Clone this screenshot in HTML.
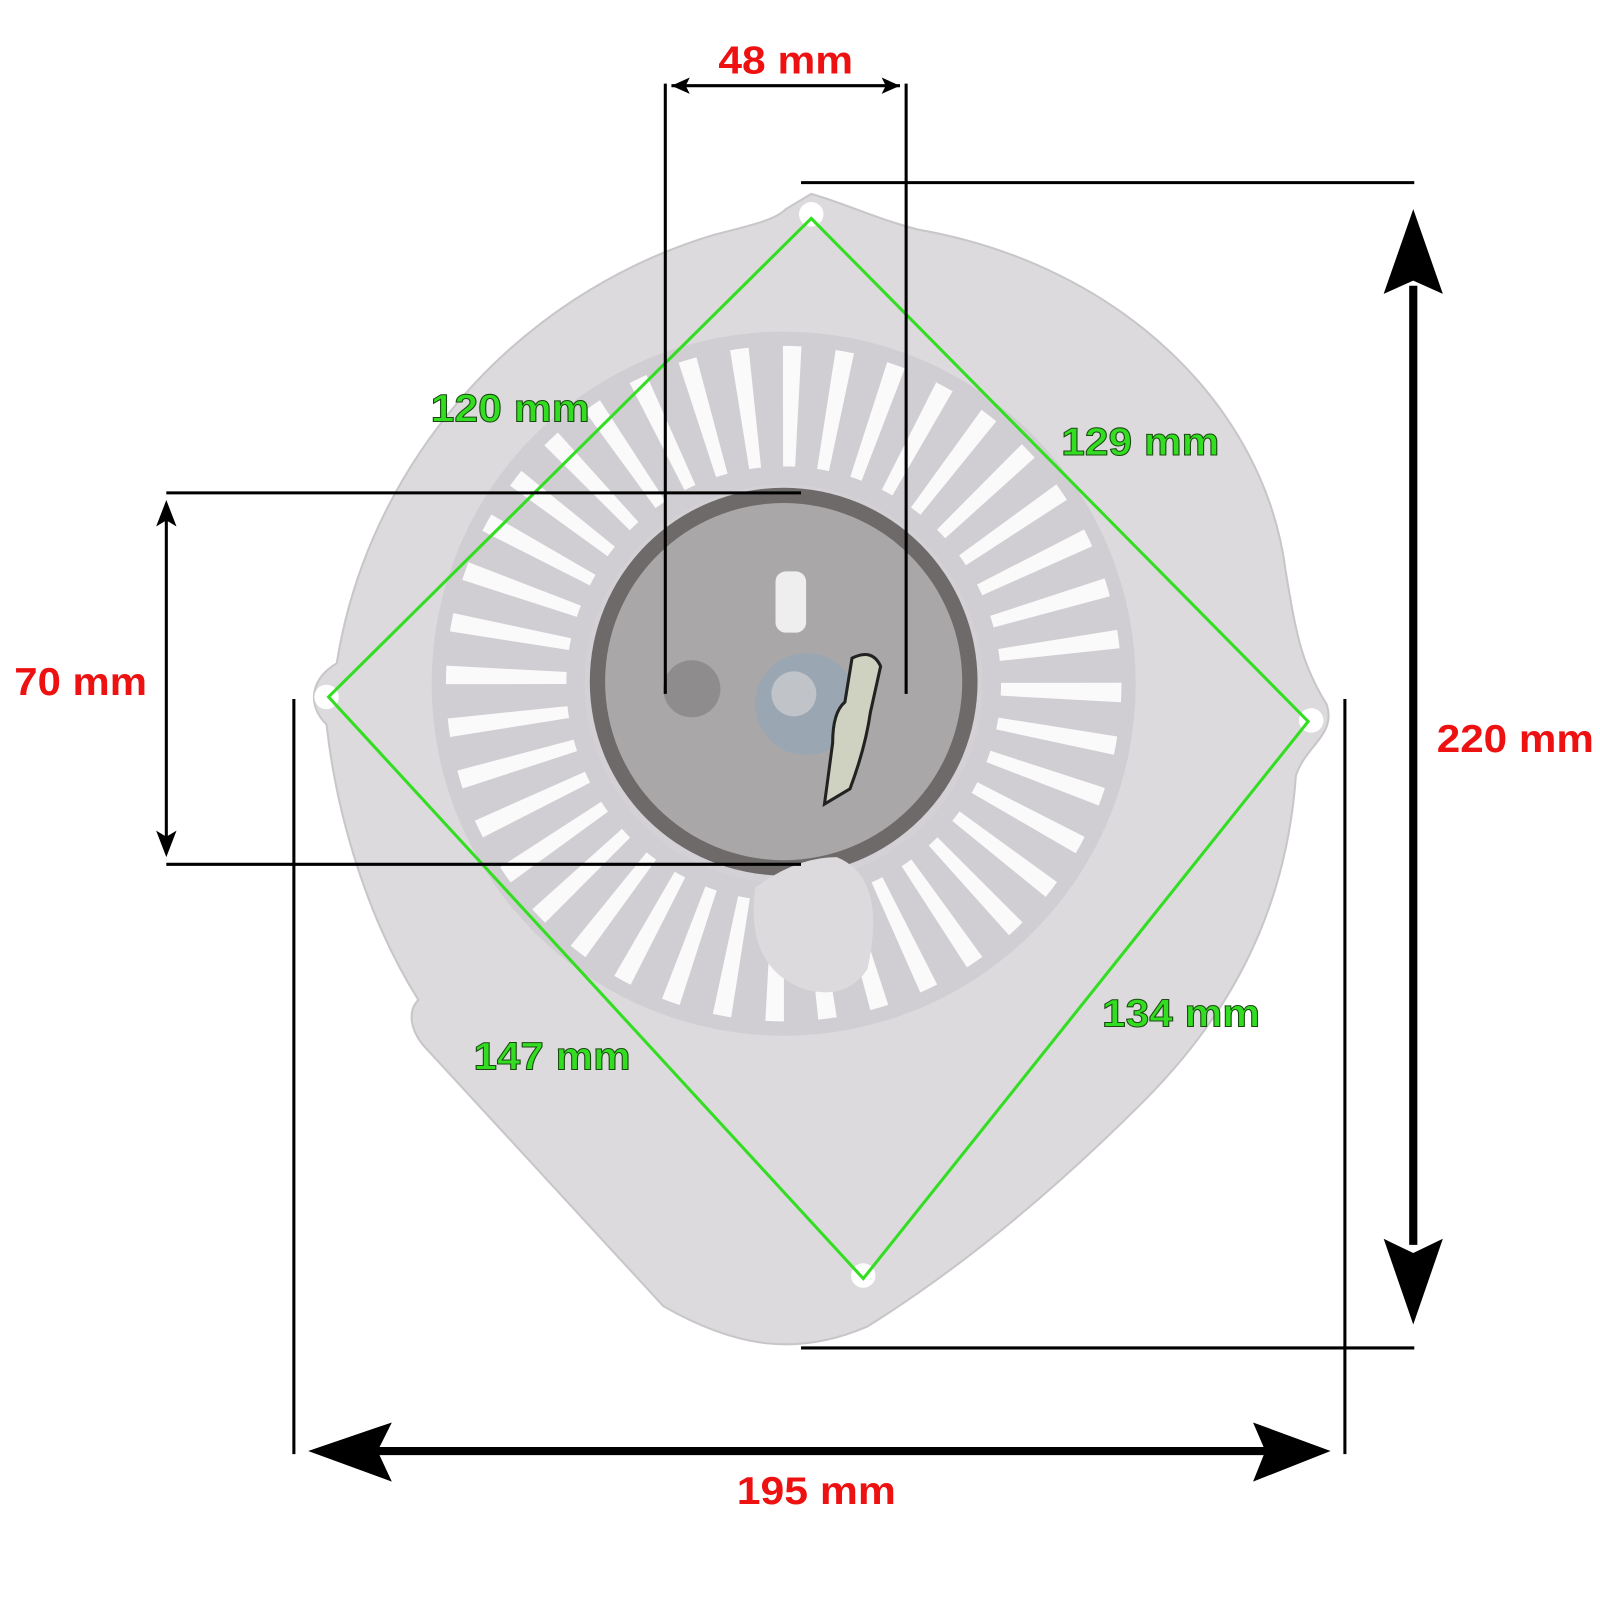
<!DOCTYPE html>
<html><head><meta charset="utf-8"><style>
html,body{margin:0;padding:0;background:#fff}
svg{display:block}
text{font-family:"Liberation Sans",Arial,sans-serif;font-weight:bold}
</style></head><body>
<svg width="1600" height="1600" viewBox="0 0 1568 1568" xmlns="http://www.w3.org/2000/svg">
<!-- body -->
<path d="M795 190 C830 200 860 215 900 225 C1100 260 1240 400 1260 560 C1270 620 1275 650 1300 690 C1310 720 1280 730 1270 760 C1260 900 1200 1000 1120 1080 C1020 1180 930 1250 850 1300 C780 1330 720 1320 650 1280 L420 1030 C400 1010 400 990 410 980 C360 900 330 800 320 710 C300 690 305 665 330 650 C360 460 500 290 700 230 C740 220 760 215 770 205 Z" fill="#dcdadd" stroke="#c8c6c9" stroke-width="2"/>
<circle cx="795" cy="210" r="12" fill="#fff"/>
<circle cx="320" cy="683" r="12" fill="#fff"/>
<circle cx="1285" cy="706" r="12" fill="#fff"/>
<circle cx="846" cy="1250" r="12" fill="#fff"/>
<!-- grille -->
<circle cx="768" cy="670" r="345" fill="#d0ced2"/>
<circle cx="768" cy="670" r="272" fill="none" stroke="#fafafa" stroke-width="118" stroke-dasharray="15 27.7"/>
<circle cx="768" cy="670" r="195" fill="#d3d1d5"/>
<circle cx="768" cy="668" r="190" fill="#6d6a69"/>
<circle cx="768" cy="668" r="175" fill="#a9a7a8"/>
<circle cx="790" cy="690" r="50" fill="#9aa7b3"/>
<circle cx="778" cy="680" r="22" fill="#c0c4c8"/>
<circle cx="678" cy="675" r="28" fill="#8e8c8d"/>
<path d="M835 645 q20 -10 28 8 l-10 45 q-5 35 -20 75 l-25 15 l8 -60 q0 -30 12 -40z" fill="#cfd2c0" stroke="#222" stroke-width="3"/>
<rect x="760" y="560" width="30" height="60" fill="#eee" rx="10"/>
<path d="M740 870 q40 -30 80 -30 q50 20 30 110 q-20 30 -60 20 q-60 -20 -50 -100z" fill="#dcdadd"/>
<!-- green diamond -->
<polygon points="795,214 1282,707 846,1253 322,683" fill="none" stroke="#33dd22" stroke-width="3"/>
<!-- black dimension lines -->
<g stroke="#000" stroke-width="3" fill="none">
<line x1="652" y1="82" x2="652" y2="680"/>
<line x1="888" y1="82" x2="888" y2="680"/>
<line x1="658" y1="84" x2="882" y2="84"/>
<line x1="785" y1="179" x2="1386" y2="179"/>
<line x1="785" y1="1321" x2="1386" y2="1321"/>
<line x1="163" y1="483" x2="785" y2="483"/>
<line x1="163" y1="847" x2="785" y2="847"/>
<line x1="163" y1="495" x2="163" y2="835"/>
<line x1="288" y1="685" x2="288" y2="1425"/>
<line x1="1318" y1="685" x2="1318" y2="1425"/>
</g>
<line x1="1385" y1="280" x2="1385" y2="1220" stroke="#000" stroke-width="8"/>
<line x1="370" y1="1422" x2="1240" y2="1422" stroke="#000" stroke-width="8"/>
<g fill="#000">
<polygon points="1385,205 1414,288 1385,275 1356,288"/>
<polygon points="1385,1298 1414,1214 1385,1228 1356,1214"/>
<polygon points="302,1422 384,1394 370,1422 384,1452"/>
<polygon points="1304,1422 1228,1394 1240,1422 1228,1452"/>
<polygon points="658,84 676,76 672,84 676,92"/>
<polygon points="882,84 864,76 868,84 864,92"/>
<polygon points="163,490 153,516 163,510 173,516"/>
<polygon points="163,840 153,814 163,820 173,814"/>
</g>
<!-- labels -->
<g fill="#ee1111" font-size="38">
<text x="704" y="72" textLength="132" lengthAdjust="spacingAndGlyphs">48 mm</text>
<text x="14" y="681" textLength="130" lengthAdjust="spacingAndGlyphs">70 mm</text>
<text x="1408" y="737" textLength="154" lengthAdjust="spacingAndGlyphs">220 mm</text>
<text x="722" y="1474" textLength="156" lengthAdjust="spacingAndGlyphs">195 mm</text>
</g>
<g fill="#33dd22" stroke="#1a4a10" stroke-width="1" font-size="38">
<text x="422" y="413" textLength="156" lengthAdjust="spacingAndGlyphs">120 mm</text>
<text x="1040" y="446" textLength="155" lengthAdjust="spacingAndGlyphs">129 mm</text>
<text x="1080" y="1006" textLength="155" lengthAdjust="spacingAndGlyphs">134 mm</text>
<text x="464" y="1048" textLength="154" lengthAdjust="spacingAndGlyphs">147 mm</text>
</g>
</svg>
</body></html>
